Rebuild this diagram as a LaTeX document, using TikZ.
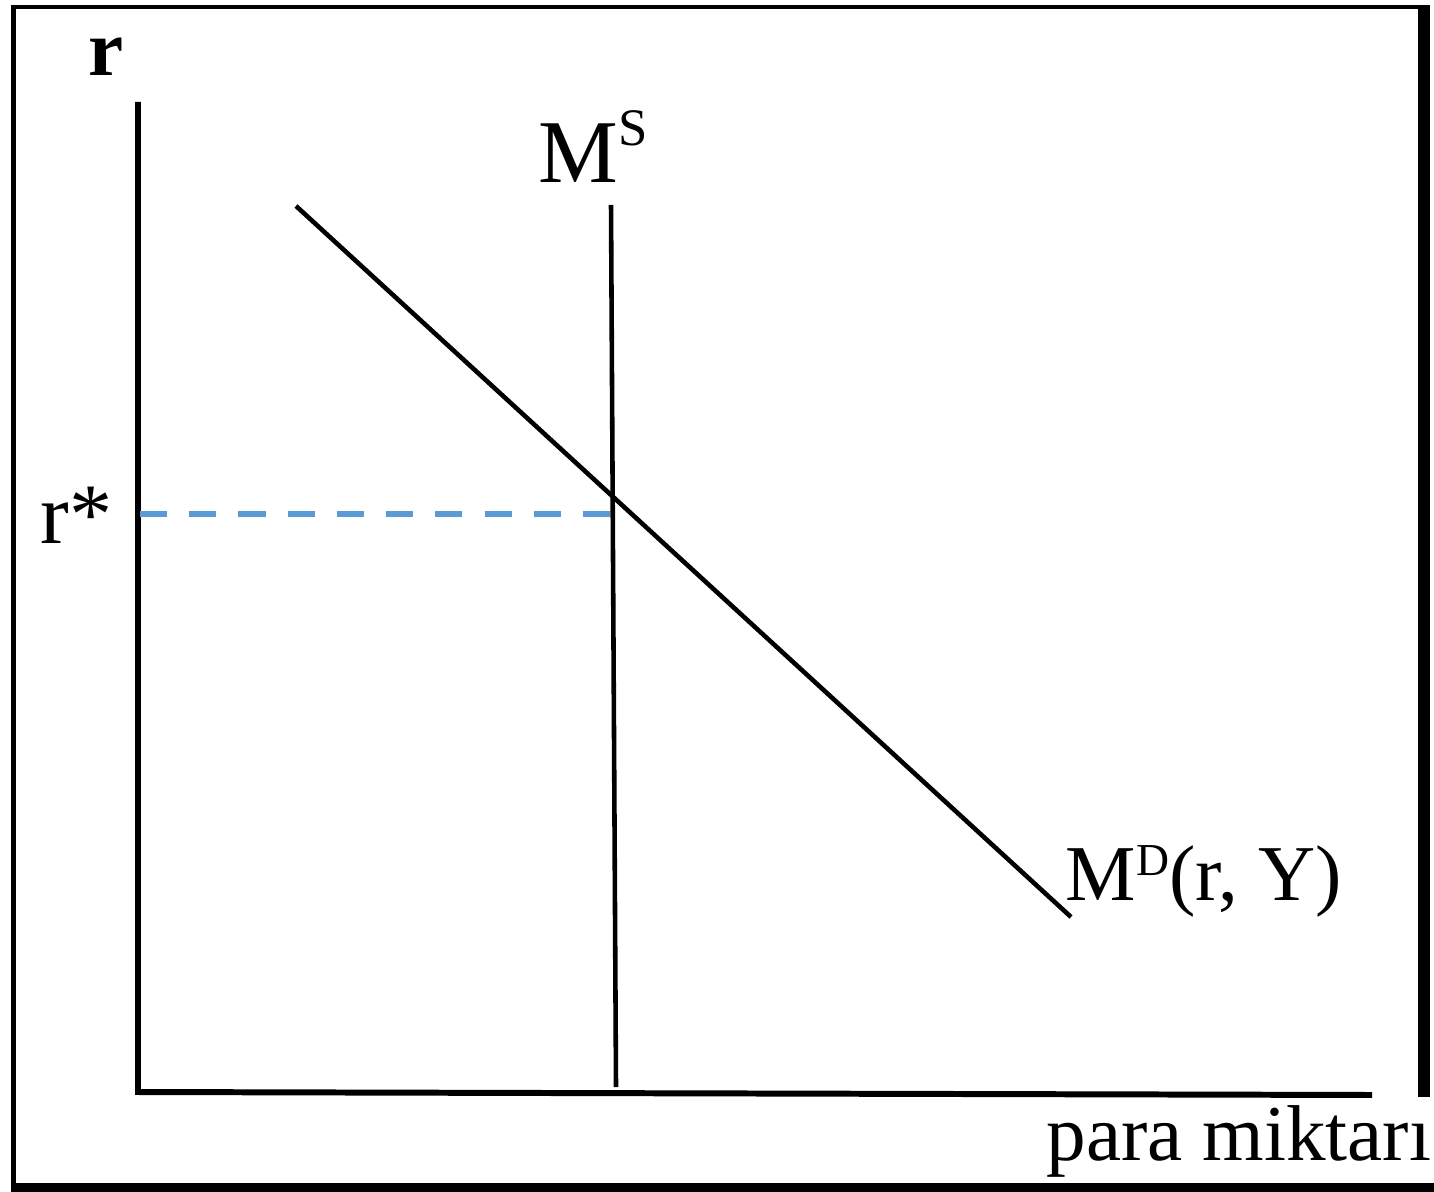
\documentclass[tikz,border=0pt]{standalone}
\usepackage{fontspec}
\setmainfont{Liberation Serif}
\usepackage{xcolor}
\definecolor{dashblue}{HTML}{5B9BD5}
\newcommand{\supr}[3]{\raisebox{#2}{\fontsize{#1}{#1}\selectfont #3}}

\begin{document}
\begin{tikzpicture}[
  x=0.01cm, y=-0.01cm,
  lbl/.style={anchor=base west, inner sep=0pt, font=\fontsize{22.5}{26}\selectfont},
  axis/.style={line width=1.7pt},
  curve/.style={line width=1.3pt},
  guide/.style={dashblue, line width=1.7pt, dash pattern=on 7.7pt off 6.3pt},
]
  \useasboundingbox (0,0) rectangle (1434,1192);
  % frame
  \draw[line width=1.4pt] (11,7) -- (1430,7);
  \draw[line width=1.5pt] (13.5,5) -- (13.5,1192);
  \draw[line width=2.6pt] (11,1187.5) -- (1434,1187.5);
  \draw[line width=3.4pt] (1424,5) -- (1424,1097);

  % axes
  \coordinate (origin) at (138,1092);
  \coordinate (ytop) at (138,102);
  \coordinate (xend) at (1372,1095);
  \draw[axis] (ytop) -- (origin) -- (xend);

  % money supply and demand
  \coordinate (mstop) at (611,205);
  \coordinate (msbot) at (616,1087);
  \coordinate (mdtop) at (296,206);
  \coordinate (mdbot) at (1071,917);
  \coordinate (eq) at (614,514);
  \coordinate (ystar) at (140,514);
  \draw[curve] (mstop) -- (msbot);
  \draw[curve] (mdtop) -- (mdbot);
  \draw[guide] (ystar) -- (eq);

  % labels
  \node[lbl] (rlab) at (88,76) {\textbf{r}};
  \node[lbl, font=\fontsize{24.5}{28}\selectfont] (rstar) at (40,544) {r*};
  \node[lbl, font=\fontsize{25.5}{30}\selectfont] (mslab) at (538,183) {M\supr{15}{10.8pt}{S}};
  \node[lbl] (mdlab) at (1065,900) {M\supr{13}{7pt}{D}(r, Y)};
  \node[lbl] (xlab) at (1046,1160) {para miktarı};
\end{tikzpicture}
\end{document}
